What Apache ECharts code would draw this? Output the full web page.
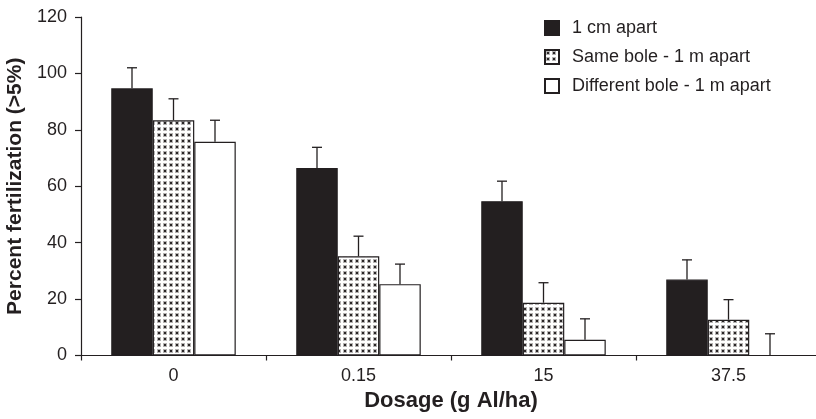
<!DOCTYPE html>
<html>
<head>
<meta charset="utf-8">
<script src="https://cdn.jsdelivr.net/npm/echarts@6/dist/echarts.min.js"></script>
<style>
html,body{margin:0;padding:0;background:#fff;}
#chart{width:816px;height:419px;}
</style>
</head>
<body>
<div id="chart"></div>
<script>
var categories = ['0', '0.15', '15', '37.5'];
var seriesNames = ['1 cm apart', 'Same bole - 1 m apart', 'Different bole - 1 m apart'];
var oneCm = [94.7, 66.5, 54.7, 26.9];
var oneCmErr = [7.3, 7.3, 7.1, 7.0];
var sameBole = [83.4, 35.2, 18.7, 12.7];
var sameBoleErr = [7.6, 7.1, 7.1, 7.1];
var diffBole = [75.8, 25.3, 5.6, 0];
var diffBoleErr = [7.6, 7.1, 7.4, 7.7];
var yTicks = [0, 20, 40, 60, 80, 100, 120];

var INK = '#231f20';
var FONT = '"Liberation Sans", Arial, Helvetica, sans-serif';
var BAR_W = 41.5;

// dotted fill pattern
var pc = document.createElement('canvas');
pc.width = 6; pc.height = 6;
var g = pc.getContext('2d');
g.fillStyle = '#ffffff'; g.fillRect(0, 0, 6, 6);
g.fillStyle = '#b5b3b3'; g.fillRect(1, 1, 4, 4);
g.fillStyle = '#2a2627'; g.fillRect(2, 2, 2, 2);
var dotPattern = { image: pc, repeat: 'repeat' };

var values = [oneCm, sameBole, diffBole];
var errs = [oneCmErr, sameBoleErr, diffBoleErr];
var errData = [];
for (var s = 0; s < 3; s++) {
  for (var c = 0; c < categories.length; c++) {
    errData.push([c, s, values[s][c], errs[s][c]]);
  }
}

var fills = [INK, dotPattern, '#ffffff'];

var barSeries = seriesNames.map(function (name, i) {
  return {
    name: name,
    type: 'bar',
    data: values[i],
    barWidth: BAR_W,
    barGap: '0%',
    itemStyle: { color: fills[i], borderColor: INK, borderWidth: 1.2 },
    emphasis: { disabled: true },
    animation: false,
    z: 2
  };
});

var option = {
  animation: false,
  backgroundColor: '#ffffff',
  textStyle: { fontFamily: FONT, color: INK },
  grid: { left: 81, width: 740, top: 17, bottom: 63.5, containLabel: false, outerBoundsMode: 'none' },
  legend: {
    orient: 'vertical',
    left: 544,
    top: 19,
    padding: 0,
    itemWidth: 14,
    itemHeight: 14,
    itemGap: 11,
    icon: 'rect',
    data: seriesNames,
    selectedMode: false,
    textStyle: { fontSize: 18, color: INK, fontFamily: FONT, padding: [0, 0, 0, 8] }
  },
  xAxis: {
    type: 'category',
    data: categories,
    name: 'Dosage (g Al/ha)',
    nameLocation: 'middle',
    nameGap: 32,
    nameTextStyle: { fontSize: 22, fontWeight: 'bold', color: INK, fontFamily: FONT },
    axisLine: { show: true, lineStyle: { color: INK, width: 1.2 } },
    axisTick: { show: true, length: 5, inside: false, alignWithLabel: false, lineStyle: { color: INK, width: 1.2 } },
    axisLabel: { fontSize: 18, color: INK, margin: 12, fontFamily: FONT },
    splitLine: { show: false }
  },
  yAxis: {
    type: 'value',
    min: 0,
    max: 120,
    interval: 20,
    name: 'Percent fertilization (>5%)',
    nameLocation: 'middle',
    nameGap: 54,
    nameTextStyle: { fontSize: 21, fontWeight: 'bold', color: INK, fontFamily: FONT },
    axisLine: { show: true, lineStyle: { color: INK, width: 1.2 } },
    axisTick: { show: true, length: 6, inside: false, lineStyle: { color: INK, width: 1.2 } },
    axisLabel: { fontSize: 18, color: INK, margin: 14, fontFamily: FONT,
      formatter: function (v) { return yTicks.indexOf(v) >= 0 ? String(v) : ''; } },
    splitLine: { show: false }
  },
  series: barSeries.concat([{
    type: 'custom',
    name: 'errors',
    data: errData,
    z: 3,
    silent: true,
    animation: false,
    encode: { x: 0, y: 2 },
    renderItem: function (params, api) {
      var c = api.value(0), s = api.value(1), v = api.value(2), e = api.value(3);
      var base = api.coord([c, v]);
      var top = api.coord([c, v + e]);
      var x = base[0] + (s - 1) * BAR_W;
      var st = { stroke: INK, lineWidth: 1.3 };
      return {
        type: 'group',
        children: [
          { type: 'line', shape: { x1: x, y1: base[1], x2: x, y2: top[1] }, style: st },
          { type: 'line', shape: { x1: x - 5, y1: top[1], x2: x + 5, y2: top[1] }, style: st }
        ]
      };
    }
  }])
};

var chart = echarts.init(document.getElementById('chart'), null, { renderer: 'canvas' });
chart.setOption(option);
</script>
</body>
</html>
